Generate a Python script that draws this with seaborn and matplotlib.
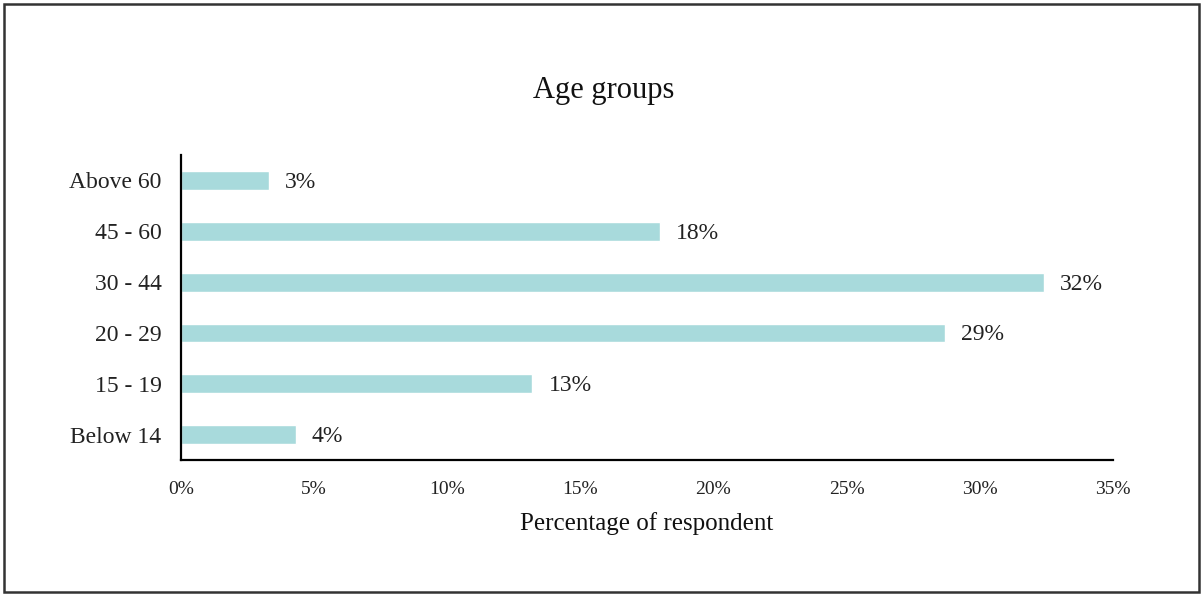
import matplotlib
matplotlib.use("Agg")
import matplotlib.pyplot as plt
import matplotlib.patches as mpatches
import seaborn as sns
import pandas as pd

# age groups, top to bottom as in the chart
groups = ['Above 60', '45 - 60', '30 - 44', '20 - 29', '15 - 19', 'Below 14']
share = [3.3, 18.0, 32.4, 28.7, 13.2, 4.3]  # percent of respondents
labels = ['3%', '18%', '32%', '29%', '13%', '4%']
ticks = [0, 5, 10, 15, 20, 25, 30, 35]

df = pd.DataFrame({'group': groups, 'share': share})

sns.set_style('white')
plt.rcParams['font.family'] = ['Liberation Serif', 'DejaVu Serif']

fig = plt.figure(figsize=(12.03, 5.94), dpi=100)
ax = fig.add_axes([0.1505, 0.2256, 0.7745, 0.5134])

sns.barplot(data=df, x='share', y='group', color='#a8dadc', saturation=1,
            width=0.37, ax=ax)

for bar, txt in zip(ax.patches, labels):
    ax.annotate(txt, (bar.get_width(), bar.get_y() + bar.get_height() / 2),
                xytext=(16, -2), textcoords='offset pixels',
                va='center', ha='left', fontsize=17, color='#222222')

ax.set_xlim(0, 35)
ax.set_xticks(ticks)
ax.set_xticklabels([f'{t}%' for t in ticks], fontsize=14, color='#222222')
ax.tick_params(axis='y', labelsize=17, colors='#222222', length=0, pad=14)
ax.tick_params(axis='x', length=0, pad=15)
ax.set_ylabel('')
ax.set_xlabel('Percentage of respondent', fontsize=18, labelpad=10, color='#111111')
sns.despine(ax=ax)
for s in ['left', 'bottom']:
    ax.spines[s].set_color('black')
    ax.spines[s].set_linewidth(1.6)

fig.text(0.502, 0.848, 'Age groups', ha='center', va='center', fontsize=22, color='#111111')

# outer frame round the whole chart
fig.patches.append(mpatches.Rectangle((0.003, 0.003), 0.994, 0.991, transform=fig.transFigure,
                                      fill=False, edgecolor='#333333', linewidth=1.8))

fig.savefig('out.png', dpi=100)
